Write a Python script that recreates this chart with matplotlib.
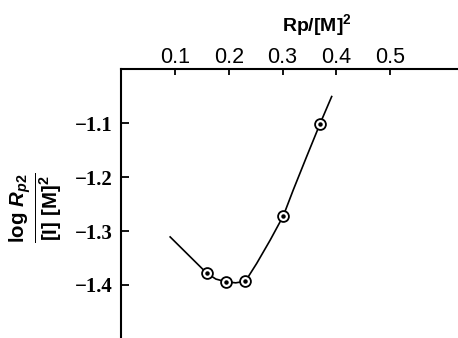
import matplotlib.pyplot as plt

plt.rcParams['mathtext.fontset'] = 'custom'
plt.rcParams['mathtext.rm'] = 'Liberation Sans:bold'
plt.rcParams['mathtext.bf'] = 'Liberation Sans:bold'
plt.rcParams['mathtext.it'] = 'Liberation Sans:bold:italic'

# measured points (circles)
pt_x = [0.159, 0.195, 0.231, 0.3015, 0.370]
pt_y = [-1.378, -1.394, -1.393, -1.272, -1.101]

# drawn curve
curve_x = [0.091, 0.159, 0.176, 0.195, 0.213, 0.231, 0.252, 0.277, 0.3015, 0.320, 0.345, 0.370, 0.3915]
curve_y = [-1.311, -1.378, -1.389, -1.394, -1.396, -1.393, -1.360, -1.317, -1.272, -1.224, -1.162, -1.101, -1.051]

xticks = [0.1, 0.2, 0.3, 0.4, 0.5]
yticks = [-1.1, -1.2, -1.3, -1.4]

fig = plt.figure(figsize=(4.58, 3.38), dpi=100)
ax = fig.add_axes([121.25 / 458, 1 - 339 / 338, 1 - 121.25 / 458, 270 / 338])

ax.plot(curve_x, curve_y, color='black', linewidth=1.2, zorder=2)
ax.plot(pt_x, pt_y, 'o', ms=7.8, mfc='white', mec='black', mew=1.3, zorder=3)
ax.plot(pt_x, pt_y, 'o', ms=2.2, color='black', zorder=4)

ax.set_xlim(0, (458 - 121.25) / 537.5)
ax.set_ylim(-1.5, -1.0)

ax.spines['right'].set_visible(False)
ax.spines['bottom'].set_visible(False)
ax.spines['top'].set_linewidth(1.5)
ax.spines['left'].set_linewidth(1.5)

ax.xaxis.tick_top()
ax.set_xticks(xticks)
ax.set_xticklabels(['0.1', '0.2', '0.3', '0.4', '0.5'], fontsize=15.5, family='Liberation Sans')
ax.tick_params(axis='x', direction='in', length=4.5, width=1.3, pad=1)

ax.set_yticks(yticks)
ax.set_yticklabels(['\u22121.1', '\u22121.2', '\u22121.3', '\u22121.4'],
                   fontsize=15, family='Liberation Serif', fontweight='bold')
ax.tick_params(axis='y', direction='in', length=6, width=1.3, pad=6)

fig.text(317 / 458, 1 - 25 / 338, r'Rp/[M]$^{2}$', fontsize=14, fontweight='bold',
         family='Liberation Sans', ha='center', va='center')

fig.text(36 / 458, 1 - 208 / 338, r'$\frac{\mathrm{log}\ R_{p2}}{\mathrm{[I]\ [M]}^{2}}$',
         fontsize=21, rotation=90, ha='center', va='center')

fig.savefig('out.png', dpi=100)
